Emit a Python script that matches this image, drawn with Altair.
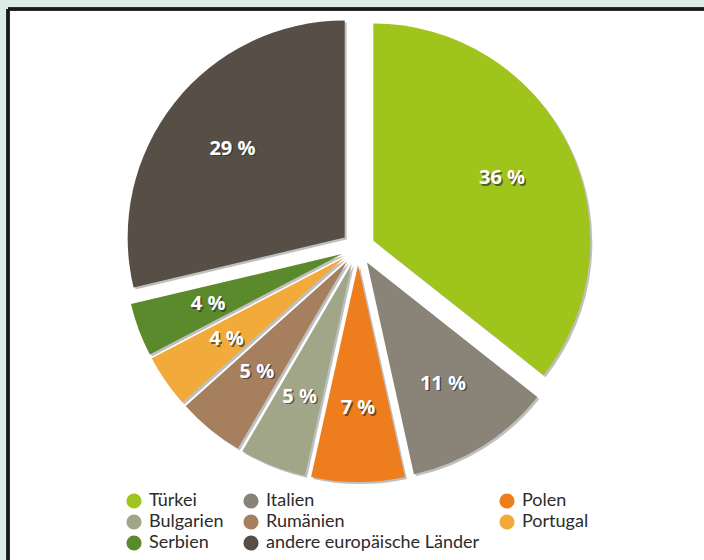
import altair as alt
import pandas as pd

countries = ["Türkei", "Italien", "Polen", "Bulgarien", "Rumänien",
             "Portugal", "Serbien", "andere europäische Länder"]
shares = [36, 11, 7, 5, 5, 4, 4, 29]
colors = ["#9fc41c", "#8a8378", "#ee7d1e", "#a1a688", "#a67f5e",
          "#f2ab3b", "#5b8a2c", "#574e45"]
labels = [f"{v} %" for v in shares]
legend_order = ["Türkei", "Bulgarien", "Serbien", "Italien", "Rumänien",
                "andere europäische Länder", "Polen", "Portugal"]

df = pd.DataFrame({
    "country": countries,
    "share": shares,
    "label": labels,
    "order": list(range(len(countries))),
})
color_of = dict(zip(countries, colors))

CX, CY = 350, 239      # pie centre inside the plot area
R = 217                # pie radius
EXPLODE = 17           # explode distance of each slice
LABEL_R = 143          # label distance from the slice apex

base = (
    alt.Chart(df)
    .transform_window(cum="sum(share)", sort=[{"field": "order"}], frame=[None, 0])
    .transform_joinaggregate(total="sum(share)")
    .transform_calculate(
        a0="2*PI*(datum.cum-datum.share)/datum.total",
        a1="2*PI*datum.cum/datum.total",
    )
    .transform_calculate(mid="(datum.a0+datum.a1)/2")
    .transform_calculate(
        px=f"{CX}+{EXPLODE}*sin(datum.mid)",
        py=f"{CY}-{EXPLODE}*cos(datum.mid)",
        lx=f"{CX}+{EXPLODE + LABEL_R}*sin(datum.mid)",
        ly=f"{CY}-{EXPLODE + LABEL_R}*cos(datum.mid)",
    )
    .transform_calculate(sx="datum.px+2", sy="datum.py+2")
)

color = alt.Color(
    "country:N",
    scale=alt.Scale(domain=legend_order, range=[color_of[c] for c in legend_order]),
    sort=legend_order,
    legend=alt.Legend(
        orient="none", legendX=117, legendY=483, columns=3, title=None,
        symbolType="circle", symbolSize=230, symbolStrokeWidth=0,
        labelFontSize=18, labelFont="Lato", labelColor="#2b2b2b",
        columnPadding=18, rowPadding=3, labelOffset=6, labelLimit=400,
    ),
)

shadow = base.mark_arc(color="#2a2a2a", opacity=0.3).encode(
    x=alt.X("sx:Q", scale=None),
    y=alt.Y("sy:Q", scale=None),
    theta=alt.Theta("a0:Q", scale=None),
    theta2="a1:Q",
    radius=alt.value(R),
)

slices = base.mark_arc().encode(
    x=alt.X("px:Q", scale=None),
    y=alt.Y("py:Q", scale=None),
    theta=alt.Theta("a0:Q", scale=None),
    theta2="a1:Q",
    radius=alt.value(R),
    color=color,
)

text_shadow = base.mark_text(
    font="Open Sans", fontSize=20, fontWeight="bold", color="#333333",
    opacity=0.7, dx=1.5, dy=1.5,
).encode(x=alt.X("lx:Q", scale=None), y=alt.Y("ly:Q", scale=None), text="label:N")

text = base.mark_text(
    font="Open Sans", fontSize=20, fontWeight="bold", color="white",
).encode(x=alt.X("lx:Q", scale=None), y=alt.Y("ly:Q", scale=None), text="label:N")

border_left = alt.Chart(df).mark_rule(color="#1a1a1a", strokeWidth=2.5).encode(
    x=alt.value(0), y=alt.value(0), y2=alt.value(560)
)
border_top = alt.Chart(df).mark_rule(color="#1a1a1a", strokeWidth=2.5).encode(
    x=alt.value(0), x2=alt.value(720), y=alt.value(0)
)

chart = (
    alt.layer(shadow, slices, text_shadow, text, border_left, border_top)
    .properties(
        width=696, height=551,
        padding={"left": 8, "top": 9, "right": 0, "bottom": 0},
        autosize=alt.AutoSizeParams(type="none"),
        background="#dcede7",
    )
    .configure_view(stroke=None, fill="white")
)

chart.save("out.html", embed_options={"renderer": "svg", "actions": False})
